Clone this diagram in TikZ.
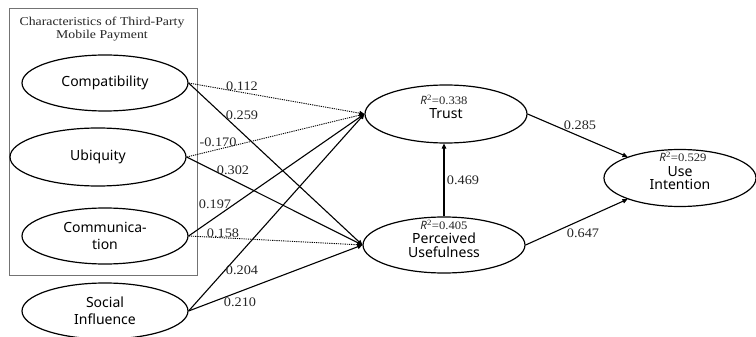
\documentclass[tikz,border=0pt]{standalone}
\usepackage{fontspec}
\setmainfont{Liberation Serif}
\newfontfamily\elfont{Noto Sans}
\newfontfamily\labfont[FakeStretch=1.1]{Liberation Serif}
\newfontfamily\titfont[FakeStretch=1.15]{Liberation Serif}
\usetikzlibrary{shapes.geometric,arrows.meta}
\begin{document}
\begin{tikzpicture}[x=1pt,y=-1pt,
  construct/.style={ellipse,draw=black,line width=1.2pt,inner sep=0pt,align=center,
    font=\elfont\fontsize{14}{17}\selectfont},
  coef/.style={inner sep=0pt,font=\labfont\fontsize{13}{15}\selectfont,text=black!85},
  rsq/.style={inner sep=0pt,font=\labfont\fontsize{11.5}{13}\selectfont,text=black!85},
  path/.style={line width=1.1pt,-{Triangle[length=5pt,width=4.5pt]}},
  weak/.style={line width=0.9pt,dash pattern=on 1.2pt off 1pt,-{Triangle[length=5pt,width=4.5pt]}}]
\useasboundingbox (0,0) rectangle (756,337);
\fill[white] (0,0) rectangle (756,337);
% group box
\node[draw=black!55,line width=0.9pt,minimum width=188pt,minimum height=267pt,inner sep=0pt] (grp) at (103,141.5) {};
\node[inner sep=0pt,align=center,font=\titfont\fontsize{12}{13}\selectfont,text=black!85] (title) at (102,29.5) {Characteristics of Third-Party\\Mobile Payment};
% constructs
\node[construct,minimum width=166pt,minimum height=56pt] (comp) at (105,83) {Compatibility};
\node[construct,minimum width=176pt,minimum height=58pt] (ubiq) at (98,157) {Ubiquity};
\node[construct,minimum width=166pt,minimum height=56pt] (comm) at (105,236) {Communica-\\tion};
\node[construct,minimum width=166pt,minimum height=56pt] (soc) at (105,311) {Social\\Influence};
\node[construct,minimum width=162pt,minimum height=58pt] (trust) at (446,114) {\raisebox{-2pt}{Trust}};
\node[construct,minimum width=162pt,minimum height=56pt] (pu) at (444,245) {\raisebox{-3pt}{\shortstack{Perceived\\Usefulness}}};
\node[construct,minimum width=152pt,minimum height=57pt] (ui) at (680,178) {\raisebox{-3pt}{\shortstack{Use\\Intention}}};
% R squared
\node[rsq] (r1) at (444,100) {{\elfont\itshape R}\textsuperscript{2}=0.338};
\node[rsq] (r2) at (444,225) {{\elfont\itshape R}\textsuperscript{2}=0.405};
\node[rsq] (r3) at (683,157) {{\elfont\itshape R}\textsuperscript{2}=0.529};
% paths
\draw[weak] (comp.east) -- (trust.west);
\draw[path] (comp.east) -- (pu.west);
\draw[weak] (ubiq.east) -- (trust.west);
\draw[path] (ubiq.east) -- (pu.west);
\draw[path] (comm.east) -- (trust.west);
\draw[weak] (comm.east) -- (pu.west);
\draw[path] (soc.east) -- (trust.west);
\draw[path] (soc.east) -- (pu.west);
\draw[path] (pu.north) -- (pu.north |- trust.south);
\draw[path] (trust.east) -- (ui.158);
\draw[path] (pu.east) -- (ui.202);
% coefficients
\node[coef] (c1) at (242,86) {0.112};
\node[coef] (c2) at (242,115) {0.259};
\node[coef] (c3) at (218,142) {-0.170};
\node[coef] (c4) at (233,170) {0.302};
\node[coef] (c5) at (215,204) {0.197};
\node[coef] (c6) at (223,233) {0.158};
\node[coef] (c7) at (242,270) {0.204};
\node[coef] (c8) at (240,302) {0.210};
\node[coef] (c9) at (463,180) {0.469};
\node[coef] (c10) at (580,125) {0.285};
\node[coef] (c11) at (583,233) {0.647};
\end{tikzpicture}
\end{document}
